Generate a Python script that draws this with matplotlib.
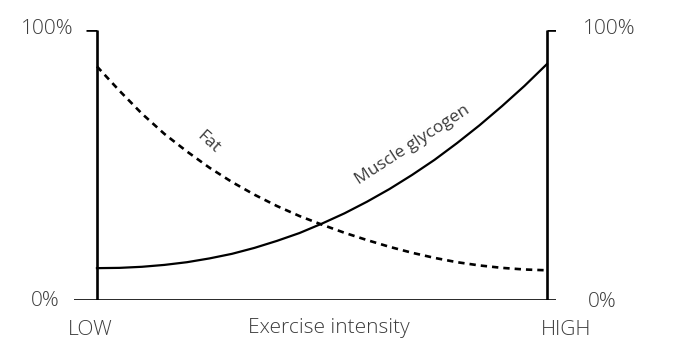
import matplotlib.pyplot as plt

# exercise intensity (0 = LOW, 1 = HIGH) and share of substrate used
intensity = [0.0, 0.05, 0.1, 0.15, 0.2, 0.25, 0.3, 0.35, 0.4, 0.45, 0.5,
             0.55, 0.6, 0.65, 0.7, 0.75, 0.8, 0.85, 0.9, 0.95, 1.0]
fat = [0.865, 0.775, 0.69, 0.615, 0.55, 0.49, 0.437, 0.39, 0.348, 0.311,
       0.279, 0.249, 0.222, 0.197, 0.175, 0.156, 0.14, 0.128, 0.119, 0.113,
       0.11]
glycogen = [0.118, 0.119, 0.123, 0.13, 0.14, 0.154, 0.171, 0.193, 0.219,
            0.248, 0.283, 0.321, 0.364, 0.411, 0.463, 0.519, 0.581, 0.647,
            0.718, 0.793, 0.874]

y_labels = ["0%", "100%"]
x_labels = ["LOW", "HIGH"]
x_title = "Exercise intensity"

TEXT = "#3c3c3c"
plt.rcParams["font.family"] = ["Open Sans", "DejaVu Sans"]

fig = plt.figure(figsize=(6.98, 3.6), dpi=100)
ax = fig.add_axes([74 / 698, 60 / 360, 482 / 698, 270 / 360])
ax.set_xlim(-0.051, 1.02)
ax.set_ylim(0, 1)

ax.plot(intensity, glycogen, color="black", linewidth=1.6)
ax.plot(intensity, fat, color="black", linewidth=1.9, dashes=(2.4, 1.9))

for s in ["top", "right", "left", "bottom"]:
    ax.spines[s].set_visible(False)
ax.set_xticks([])
ax.set_yticks([])

# frame: two uprights, a base line and the 100% marks
ax.vlines([0, 1], 0, 1, color="black", linewidth=1.9)
ax.axhline(0, color="black", linewidth=1.9)
ax.hlines(1, -0.025, 0, color="black", linewidth=1.9)
ax.hlines(1, 1, 1.058, color="black", linewidth=1.9)

kw = dict(color=TEXT, fontsize=15, fontweight="light")
ax.text(-0.053, 1.005, y_labels[1], ha="right", va="center", **kw)
ax.text(-0.082, -0.004, y_labels[0], ha="right", va="center", **kw)
ax.text(1.08, 1.005, y_labels[1], ha="left", va="center", **kw)
ax.text(1.091, -0.007, y_labels[0], ha="left", va="center", **kw)

ax.text(-0.016, -0.111, x_labels[0], ha="center", va="center", **kw)
ax.text(1.042, -0.111, x_labels[1], ha="center", va="center", **kw)
ax.text(0.516, -0.105, x_title, ha="center", va="center", **kw)

ax.text(0.247, 0.585, "Fat", rotation=-42, ha="center", va="center",
        color=TEXT, fontsize=12.5)
ax.text(0.702, 0.574, "Muscle glycogen", rotation=33, ha="center",
        va="center", color=TEXT, fontsize=12.5)

fig.savefig("out.png", dpi=100)
